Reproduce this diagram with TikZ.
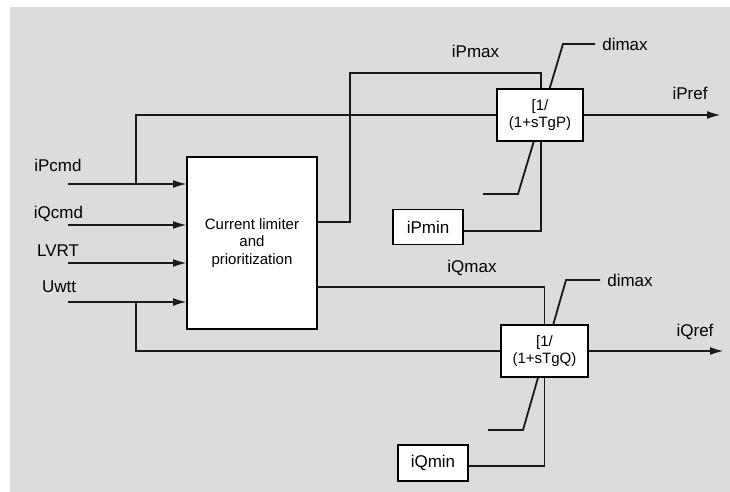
\documentclass[tikz,border=0pt]{standalone}
\usepackage{fontspec}
\setmainfont{Liberation Sans}
\usetikzlibrary{arrows.meta}
\pgfdeclarelayer{backdrop}
\pgfdeclarelayer{under}
\pgfsetlayers{backdrop,under,main}
\definecolor{panel}{RGB}{220,220,220}
\definecolor{wirecol}{RGB}{25,25,25}
\begin{document}
\begin{tikzpicture}[x=1pt,y=-1pt,
  wire/.style={draw=wirecol,line width=1.1pt},
  arr/.style={wire,-{Latex[length=13pt,width=8pt]}},
  blk/.style={draw=black,fill=white,line width=1.6pt,inner sep=0pt,align=center,
    font=\fontsize{15}{17.5}\selectfont},
  minbox/.style={blk,font=\fontsize{17}{19}\selectfont},
  lbl/.style={font=\fontsize{17}{19}\selectfont,anchor=base,inner sep=0pt},
]
\useasboundingbox (0,0) rectangle (730,492);
\begin{pgfonlayer}{backdrop}
  \fill[panel] (10,7) rectangle (730,492);
\end{pgfonlayer}

% blocks
\node[blk,line width=2pt,minimum width=130pt,minimum height=172pt] (lim) at (252,243)
  {Current limiter\\and\\prioritization};
\node[blk,minimum width=86pt,minimum height=52pt] (fp) at (540,115) {[1/\\(1+sTgP)};
\node[blk,minimum width=87pt,minimum height=52pt] (fq) at (544.5,351) {[1/\\(1+sTgQ)};
\node[minbox,minimum width=70pt,minimum height=35pt] (pmin) at (428,227) {iPmin};
\node[minbox,minimum width=70pt,minimum height=36pt] (qmin) at (433,463) {iQmin};

% input signals
\coordinate (inP) at (68,184);
\coordinate (inQ) at (68,225);
\coordinate (inL) at (68,263);
\coordinate (inU) at (68,302);
\draw[arr] (inP) -- (lim.west |- inP);
\draw[arr] (inQ) -- (lim.west |- inQ);
\draw[arr] (inL) -- (lim.west |- inL);
\draw[arr] (inU) -- (lim.west |- inU);

% bypass paths to the filters
\coordinate (tapP) at (136,184);
\coordinate (tapU) at (136,302);
\draw[wire] (tapP) |- (fp.west);
\draw[wire] (tapU) |- (fq.west);

% limits from the limiter block
\coordinate (pmaxOut) at (317,222);
\coordinate (pmaxRise) at (350,73);
\coordinate (qmaxOut) at (317,287);
\draw[wire] (pmaxOut) -| (pmaxRise) -| ([xshift=1pt]fp.north);
\draw[wire] (qmaxOut) -| (fq.north);

% lower limits
\draw[wire] ([xshift=1pt]fp.south) |- ([yshift=-4pt]pmin.east);
\draw[wire] (fq.south) |- ([yshift=-3pt]qmin.east);

% outputs
\coordinate (outP) at (720,115);
\coordinate (outQ) at (723,351);
\draw[arr] (fp.east) -- (outP);
\draw[arr] (fq.east) -- (outQ);

% rate limiter characteristics behind the filter blocks
\begin{pgfonlayer}{under}
  \coordinate (pa) at (483,194);
  \coordinate (pb) at (518,194);
  \coordinate (pc) at (563,44);
  \coordinate (pd) at (595,44);
  \draw[wire,line width=1.8pt] (pa) -- (pb) -- (pc) -- (pd);
  \coordinate (qa) at (488,430);
  \coordinate (qb) at (523,430);
  \coordinate (qc) at (566,280);
  \coordinate (qd) at (600,280);
  \draw[wire,line width=1.8pt] (qa) -- (qb) -- (qc) -- (qd);
\end{pgfonlayer}

% labels
\node[lbl] (tPcmd) at (58,171) {iPcmd};
\node[lbl] (tQcmd) at (58.5,218) {iQcmd};
\node[lbl] (tLVRT) at (58,256) {LVRT};
\node[lbl] (tUwtt) at (59,292.5) {Uwtt};
\node[lbl] (tPmax) at (475.5,58) {iPmax};
\node[lbl] (tQmax) at (472,272) {iQmax};
\node[lbl] (tdP) at (625,51) {dimax};
\node[lbl] (tdQ) at (630,286.5) {dimax};
\node[lbl] (tPref) at (690,100) {iPref};
\node[lbl] (tQref) at (695,336) {iQref};
\end{tikzpicture}
\end{document}
